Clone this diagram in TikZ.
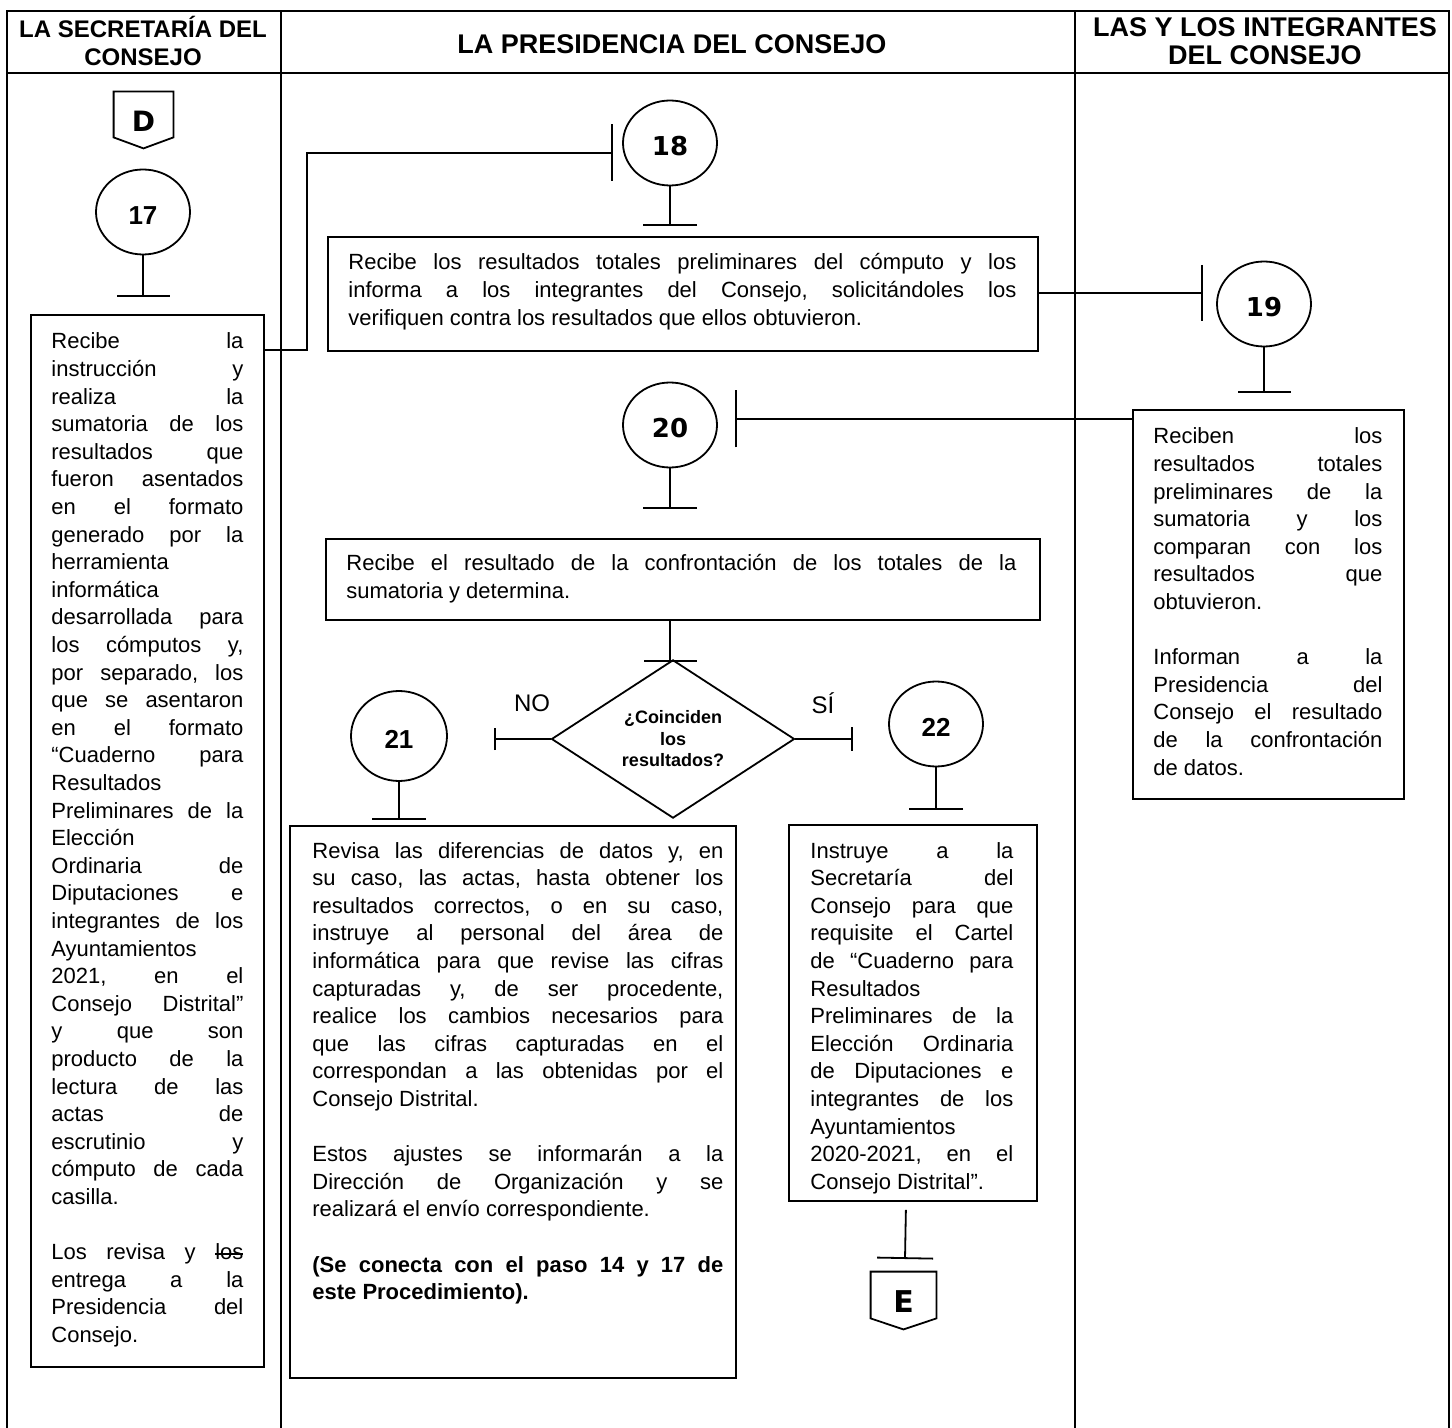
\documentclass[tikz,border=0pt]{standalone}
\usepackage{fontspec}
\setmainfont{Liberation Sans}
\newfontfamily\verd{DejaVu Sans}
\usetikzlibrary{shapes.geometric,arrows.meta,calc}
\newcommand\jline[1]{\hbox to\hsize{\frenchspacing\spaceskip=0.278em plus 1fil\relax #1}}
\newcommand\lline[1]{\hbox to\hsize{\frenchspacing #1\hfil}}
\newcommand\blankline{\hbox{}}
\newcommand\strk[1]{\setbox0\hbox{#1}\rlap{\vrule height .30em depth -.23em width\wd0}\box0}
\begin{document}
\begin{tikzpicture}[x=0.5pt,y=-0.5pt,
  tbl/.style={line width=1.4pt},
  boxnode/.style={draw, line width=0.9pt, inner sep=0, anchor=north west},
  txt/.style={inner sep=0, anchor=base west, font=\fontsize{11}{13.8}\selectfont},
  circ/.style={ellipse, draw, line width=0.9pt, inner sep=0, minimum width=47pt, minimum height=42.5pt, text height=12.5pt, text depth=0pt},
  numA/.style={font=\bfseries\fontsize{13}{13}\selectfont},
  numV/.style={font=\verd\bfseries\fontsize{13}{13}\selectfont},
  conn/.style={line width=0.9pt},
  offp/.style={inner sep=0, text height=12pt, text depth=0pt},
  hdr/.style={inner sep=0, align=center, font=\bfseries\fontsize{12}{14}\selectfont},
  hdrbig/.style={inner sep=0, align=center, font=\bfseries\fontsize{13.5}{14}\selectfont},
  dia/.style={diamond, draw, line width=0.9pt, inner sep=0, minimum width=121.5pt, minimum height=69pt, align=center, font=\bfseries\fontsize{9}{10.75}\selectfont},
  lbl/.style={inner sep=0, font=\fontsize{12}{12}\selectfont}
]
\useasboundingbox (0,0) rectangle (1452,1428);
\fill[white] (0,0) rectangle (1452,1428);

% table
\draw[tbl] (7,1428) -- (7,11) -- (1449,11) -- (1449,1428);
\draw[tbl] (7,73) -- (1449,73);
\draw[tbl] (281,11) -- (281,1428);
\draw[tbl] (1075,11) -- (1075,1428);

% headers
\node[hdr] (h1) at (143,41) {LA SECRETARÍA DEL\\CONSEJO};
\node[hdrbig] (h2) at (672,44) {LA PRESIDENCIA DEL CONSEJO};
\node[hdrbig] (h3) at (1265,41) {LAS Y LOS INTEGRANTES\\DEL CONSEJO};

% off-page connector D
\node[offp, minimum width=29.5pt, minimum height=28pt, font=\verd\bfseries\fontsize{14}{14}\selectfont] (D) at (143.5,120) {D};
\draw[conn] (D.north west) -- (D.north east) -- ($(D.south east)+(0,-11)$) -- (D.south) -- ($(D.south west)+(0,-11)$) -- cycle;

% circles
\node[circ, numA] (c17) at (143,212) {17};
\node[circ, numV] (c18) at (670,143) {18};
\node[circ, numV] (c19) at (1264,304) {19};
\node[circ, numV] (c20) at (670,425) {20};
\node[circ, numA, minimum width=48pt, minimum height=45pt] (c21) at (399,736) {21};
\node[circ, numA] (c22) at (936,724) {22};

% boxes
\node[boxnode, minimum width=116.5pt, minimum height=526pt] (b17) at (30,314) {};
\node[boxnode, minimum width=355pt, minimum height=57pt] (b18) at (327,236) {};
\node[boxnode, minimum width=135.5pt, minimum height=194.5pt] (b19) at (1132,409) {};
\node[boxnode, minimum width=357pt, minimum height=40.5pt] (b20) at (325,538) {};
\node[boxnode, minimum width=223pt, minimum height=276pt] (b21) at (289,825) {};
\node[boxnode, minimum width=124pt, minimum height=188pt] (b22) at (788,824) {};

% decision
\node[dia] (q) at (673,739) {¿Coinciden\\los\\resultados?};
\node[lbl] (no) at (532,703) {NO};
\node[lbl] (si) at (823,703) {SÍ};

% off-page connector E
\node[offp, minimum width=32.5pt, minimum height=28.5pt, font=\verd\bfseries\fontsize{15}{15}\selectfont] (E) at (903.5,1300.5) {E};
\draw[conn] (E.north west) -- (E.north east) -- ($(E.south east)+(0,-11)$) -- (E.south) -- ($(E.south west)+(0,-11)$) -- cycle;

% texts
\node[txt] (t17) at (51,349) {\vtop{\hsize=96pt
\jline{Recibe la}
\jline{instrucción y}
\jline{realiza la}
\jline{sumatoria de los}
\jline{resultados que}
\jline{fueron asentados}
\jline{en el formato}
\jline{generado por la}
\lline{herramienta}
\lline{informática}
\jline{desarrollada para}
\jline{los cómputos y,}
\jline{por separado, los}
\jline{que se asentaron}
\jline{en el formato}
\jline{“Cuaderno para}
\lline{Resultados}
\jline{Preliminares de la}
\lline{Elección}
\jline{Ordinaria de}
\jline{Diputaciones e}
\jline{integrantes de los}
\lline{Ayuntamientos}
\jline{2021, en el}
\jline{Consejo Distrital”}
\jline{y que son}
\jline{producto de la}
\jline{lectura de las}
\jline{actas de}
\jline{escrutinio y}
\jline{cómputo de cada}
\lline{casilla.}
\blankline
\jline{Los revisa y \strk{los}}
\jline{entrega a la}
\jline{Presidencia del}
\lline{Consejo.}}};

\node[txt] (t18) at (348,270) {\vtop{\hsize=334pt
\jline{Recibe los resultados totales preliminares del cómputo y los}
\jline{informa a los integrantes del Consejo, solicitándoles los}
\lline{verifiquen contra los resultados que ellos obtuvieron.}}};

\node[txt] (t19) at (1153,444) {\vtop{\hsize=114.5pt
\jline{Reciben los}
\jline{resultados totales}
\jline{preliminares de la}
\jline{sumatoria y los}
\jline{comparan con los}
\jline{resultados que}
\lline{obtuvieron.}
\blankline
\jline{Informan a la}
\jline{Presidencia del}
\jline{Consejo el resultado}
\jline{de la confrontación}
\lline{de datos.}}};

\node[txt] (t20) at (346,571) {\vtop{\hsize=335pt
\jline{Recibe el resultado de la confrontación de los totales de la}
\lline{sumatoria y determina.}}};

\node[txt] (t21) at (312,858) {\vtop{\hsize=205.5pt
\jline{Revisa las diferencias de datos y, en}
\jline{su caso, las actas, hasta obtener los}
\jline{resultados correctos, o en su caso,}
\jline{instruye al personal del área de}
\jline{informática para que revise las cifras}
\jline{capturadas y, de ser procedente,}
\jline{realice los cambios necesarios para}
\jline{que las cifras capturadas en el}
\jline{correspondan a las obtenidas por el}
\lline{Consejo Distrital.}
\blankline
\jline{Estos ajustes se informarán a la}
\jline{Dirección de Organización y se}
\lline{realizará el envío correspondiente.}
\blankline
\jline{\bfseries (Se conecta con el paso 14 y 17 de}
\lline{\bfseries este Procedimiento).}}};

\node[txt] (t22) at (810,858) {\vtop{\hsize=101.5pt
\jline{Instruye a la}
\jline{Secretaría del}
\jline{Consejo para que}
\jline{requisite el Cartel}
\jline{de “Cuaderno para}
\lline{Resultados}
\jline{Preliminares de la}
\jline{Elección Ordinaria}
\jline{de Diputaciones e}
\jline{integrantes de los}
\lline{Ayuntamientos}
\jline{2020-2021, en el}
\lline{Consejo Distrital”.}}};

% connectors
\coordinate (e17) at (143,297);
\coordinate (e18) at (613,153);
\coordinate (e18b) at (670,226);
\coordinate (e19) at (1203,293);
\coordinate (e19b) at (1264,393);
\coordinate (e20) at (735,419);
\coordinate (e20b) at (670,509);
\coordinate (eq) at (670,662);
\coordinate (eno) at (494,739);
\coordinate (esi) at (853,739);
\coordinate (e21) at (399,820);
\coordinate (e22) at (936,810);
\coordinate (eE) at (905,1259);

\draw[conn,-{Bar[width=26.5pt]}] (c17.south) -- (e17);
\draw[conn,-{Bar[width=28.5pt]}] ($(b17.north east)+(0,36)$) -- ++(42,0) |- (e18);
\draw[conn,-{Bar[width=27pt]}] (c18.south) -- (e18b);
\draw[conn,-{Bar[width=28pt]}] ($(b18.north east)+(0,57)$) -- (e19);
\draw[conn,-{Bar[width=26.5pt]}] (c19.south) -- (e19b);
\draw[conn,-{Bar[width=28.5pt]}] ($(b19.north west)+(0,10)$) -- (e20);
\draw[conn,-{Bar[width=27pt]}] (c20.south) -- (e20b);
\draw[conn,-{Bar[width=26.5pt]}] (c20 |- b20.south) -- (eq);
\draw[conn,-{Bar[width=11pt]}] (q.west) -- (eno);
\draw[conn,-{Bar[width=12pt]}] (q.east) -- (esi);
\draw[conn,-{Bar[width=27pt]}] (c21.south) -- (e21);
\draw[conn,-{Bar[width=27pt]}] (c22.south) -- (e22);
\draw[conn,-{Bar[width=28pt]}] ($(b22.south)+(-7,8)$) -- (eE);
\end{tikzpicture}
\end{document}
